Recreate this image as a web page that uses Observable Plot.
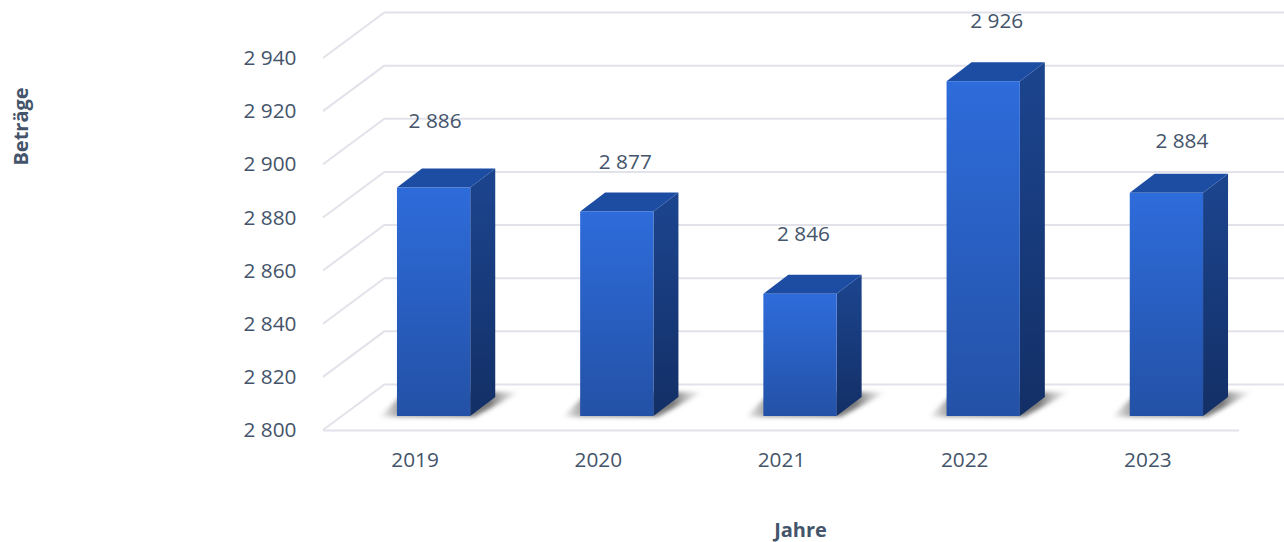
<!DOCTYPE html>
<html lang="de">
<head>
<meta charset="utf-8">
<script src="https://cdn.jsdelivr.net/npm/d3@7"></script>
<script src="https://cdn.jsdelivr.net/npm/@observablehq/plot@0.6"></script>
<style>
html,body{margin:0;padding:0;background:#fff}
svg{display:block}
</style>
</head>
<body>
<div id="chart"></div>
<script>
const years = ["2019", "2020", "2021", "2022", "2023"];
const amounts = [2886, 2877, 2846, 2926, 2884];
const yTicks = [2800, 2820, 2840, 2860, 2880, 2900, 2920, 2940];
const xTitle = "Jahre";
const yTitle = "Beträge";

const rows = years.map((year, i) => ({year, amount: amounts[i], i}));
const spaced = v => String(v).replace(/\B(?=(\d{3})$)/, " ");
const FONT = "'Open Sans', sans-serif";
const INK = "#44546a";
const GRID = "#e2e2ea";
const base = yTicks[0];

// projection of the pseudo-3D scene
const wall = {dx: 62, dy: -46};
const plane = {dx: 19, dy: -14};
const depth = {dx: 25, dy: -19};
// hand placement of the value labels relative to the front-top of each bar
const labelShift = [{dx: 1, dy: -67}, {dx: 8, dy: -50}, {dx: 3, dy: -60}, {dx: 13, dy: -60}, {dx: 15, dy: -52}];

const NS = "http://www.w3.org/2000/svg";
const el = (tag, attrs, parent) => {
  const e = document.createElementNS(NS, tag);
  for (const k in attrs) e.setAttribute(k, attrs[k]);
  if (parent) parent.appendChild(e);
  return e;
};
const gradient = (defs, id, stops, horizontal) => {
  const g = el("linearGradient", {id, x1: 0, y1: 0, x2: horizontal ? 1 : 0, y2: horizontal ? 0 : 1}, defs);
  stops.forEach(([o, c, a]) => el("stop", {offset: o, "stop-color": c, "stop-opacity": a ?? 1}, g));
};

function wallGrid(index, {x, y}, values, dim) {
  const g = el("g", {stroke: GRID, "stroke-width": 2, fill: "none"});
  for (const t of yTicks) {
    const Y = y(t), L = dim.marginLeft;
    el("line", {x1: L, y1: Y, x2: L + wall.dx, y2: Y + wall.dy}, g);
  }
  return g;
}

function shadows(index, {x, y}) {
  const g = el("g");
  const defs = el("defs", {}, g);
  gradient(defs, "shade", [[0, "#666", 0], [0.14, "#666", 0.6], [0.78, "#555", 0.8], [1, "#999", 0]], true);
  const f = el("filter", {id: "soft", x: "-15%", y: "-40%", width: "130%", height: "180%"}, defs);
  el("feGaussianBlur", {stdDeviation: 2.2}, f);
  gradient(defs, "front", [[0, "#2e6cdb"], [1, "#2351a6"]]);
  gradient(defs, "side", [[0, "#1c458f"], [1, "#132f66"]]);
  for (const r of rows) {
    const X = x(r.year) + plane.dx, Y = y(base) + plane.dy, W = x.bandwidth();
    const pts = [[X - 18, Y + 1], [X + W + 4, Y + 1], [X + W + 50, Y - 24], [X + 8, Y - 24]];
    el("polygon", {points: pts.join(" "), fill: "url(#shade)", filter: "url(#soft)"}, g);
  }
  return g;
}

function faces(index, {x, y}) {
  const g = el("g");
  for (const r of rows) {
    const X = x(r.year) + plane.dx, W = x.bandwidth();
    const T = y(r.amount) + plane.dy, B = y(base) + plane.dy;
    const R = X + W;
    el("polygon", {fill: "url(#side)", points: [[R, T], [R + depth.dx, T + depth.dy], [R + depth.dx, B + depth.dy], [R, B]].join(" ")}, g);
    el("polygon", {fill: "#1d4da3", points: [[X, T], [X + depth.dx, T + depth.dy], [R + depth.dx, T + depth.dy], [R, T]].join(" ")}, g);
  }
  return g;
}

const chart = Plot.plot({
  width: 1284,
  height: 542,
  marginLeft: 323,
  marginRight: 45,
  marginTop: 58,
  marginBottom: 112,
  style: {background: "#fff", fontFamily: FONT},
  x: {domain: years, paddingInner: 0.6, paddingOuter: 0.3, round: false, label: null},
  y: {domain: [yTicks[0], yTicks[yTicks.length - 1]], label: null},
  marks: [
    wallGrid,
    Plot.ruleY(yTicks, {stroke: GRID, strokeWidth: 2, insetLeft: wall.dx, insetRight: -45, dy: wall.dy}),
    Plot.ruleY([base], {stroke: GRID, strokeWidth: 2}),
    shadows,
    faces,
    Plot.barY(rows, {x: "year", y1: () => base, y2: "amount", fill: "url(#front)", dx: plane.dx, dy: plane.dy}),
    ...rows.map(r => Plot.text([r], {
      x: "year", y: "amount", text: d => spaced(d.amount),
      dx: plane.dx + labelShift[r.i].dx, dy: plane.dy + labelShift[r.i].dy,
      fill: INK, fontSize: 20.8, fontFamily: FONT
    })),
    Plot.axisY({ticks: yTicks, tickFormat: spaced, tickSize: 0, tickPadding: 27, fontSize: 20.8, fill: INK, label: null, fontFamily: FONT}),
    Plot.axisX({tickSize: 0, tickPadding: 22, fontSize: 20.8, fill: INK, label: null, fontFamily: FONT}),
    Plot.text([xTitle], {frameAnchor: "bottom", dx: 19, dy: 106, fontSize: 20, fontWeight: 700, fill: INK, fontFamily: FONT}),
    Plot.text([yTitle], {frameAnchor: "left", textAnchor: "middle", dx: -302, dy: -118, rotate: -90, fontSize: 20, fontWeight: 700, fill: INK, fontFamily: FONT})
  ]
});
document.getElementById("chart").append(chart);
</script>
</body>
</html>
